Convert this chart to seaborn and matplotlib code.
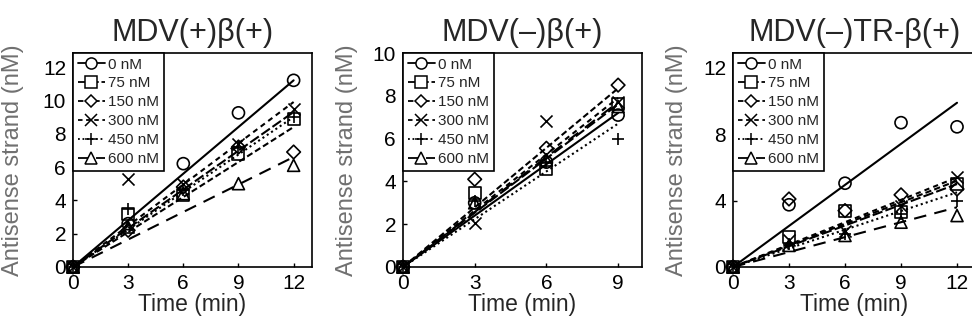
import numpy as np
import pandas as pd
import seaborn as sns
import matplotlib
matplotlib.use("Agg")
import matplotlib.pyplot as plt
from matplotlib.lines import Line2D

sns.set_style("ticks")
plt.rcParams['font.family'] = ['Liberation Sans', 'DejaVu Sans']

conc = ["0 nM", "75 nM", "150 nM", "300 nM", "450 nM", "600 nM"]
markers = ["o", "s", "D", "x", "+", "^"]
styles = ["-", (0, (5, 1.5)), (0, (3, 1.5)), (0, (2.5, 2)), (0, (1, 1.5)), (0, (6, 4))]

titles = ["MDV(+)β(+)", "MDV(–)β(+)", "MDV(–)TR-β(+)"]

# panel 1: MDV(+)beta(+)
t1 = [0, 3, 6, 9, 12]
p1 = {
    "0 nM":   [0, 2.6, 6.2, 9.25, 11.2],
    "75 nM":  [0, 3.2, 4.3, 6.8, 8.9],
    "150 nM": [0, 2.2, 4.8, 7.2, 6.9],
    "300 nM": [0, 5.3, 5.0, 7.4, 9.5],
    "450 nM": [0, 3.5, 4.6, 7.2, 9.0],
    "600 nM": [0, 2.4, 4.4, 5.0, 6.1],
}
fit1 = [11.2, 9.3, 8.4, 9.9, 9.0, 6.6]

# panel 2: MDV(-)beta(+)
t2 = [0, 3, 6, 9]
p2 = {
    "0 nM":   [0, 3.0, 4.9, 7.1],
    "75 nM":  [0, 3.45, 4.6, 7.6],
    "150 nM": [0, 4.1, 5.55, 8.5],
    "300 nM": [0, 2.05, 6.8, 7.7],
    "450 nM": [0, 3.1, 4.9, 6.0],
    "600 nM": [0, 3.0, 5.0, 7.5],
}
fit2 = [7.2, 7.6, 8.35, 7.9, 6.7, 7.7]

# panel 3: MDV(-)TR-beta(+)
t3 = [0, 3, 6, 9, 12]
p3 = {
    "0 nM":   [0, 3.75, 5.05, 8.7, 8.45],
    "75 nM":  [0, 1.8, 3.35, 3.3, 5.0],
    "150 nM": [0, 4.1, 3.4, 4.35, 4.7],
    "300 nM": [0, 1.6, 2.2, 3.7, 5.4],
    "450 nM": [0, 1.4, 2.0, 3.2, 3.95],
    "600 nM": [0, 1.3, 1.9, 2.7, 3.1],
}
fit3 = [9.9, 5.0, 5.2, 5.4, 4.5, 3.6]

panels = [
    (t1, p1, fit1, [0.0751, 0.1835, 0.2459, 0.6544], (0, 13), (0, 12.84), [0, 3, 6, 9, 12], [0, 2, 4, 6, 8, 10, 12], -0.205),
    (t2, p2, fit2, [0.4146, 0.1835, 0.2459, 0.6544], (0, 10), (0, 10), [0, 3, 6, 9], [0, 2, 4, 6, 8, 10], -0.19),
    (t3, p3, fit3, [0.7541, 0.1835, 0.2497, 0.6544], (0, 13), (0, 12.9), [0, 3, 6, 9, 12], [0, 4, 8, 12], -0.185),
]

fig = plt.figure(figsize=(9.72, 3.27), dpi=100)

for (t, pts, fit, pos, xl, yl, xt, yt, ylx), title in zip(panels, titles):
    ax = fig.add_axes(pos)
    for i, c in enumerate(conc):
        line = pd.DataFrame({"x": [0, t[-1]], "y": [0, fit[i]]})
        sns.lineplot(data=line, x="x", y="y", ax=ax, color="black",
                     linewidth=1.5, linestyle=styles[i], legend=False)
        df = pd.DataFrame({"x": t, "y": pts[c]})
        filled = markers[i] in ("x", "+")
        sns.scatterplot(data=df, x="x", y="y", ax=ax, marker=markers[i],
                        s=75 if markers[i] != "D" else 48,
                        facecolor="black" if filled else "none",
                        edgecolor="black", color="black",
                        linewidth=1.2, clip_on=False, zorder=3, legend=False)
    ax.set_xlim(*xl)
    ax.set_ylim(*yl)
    ax.set_xticks(xt)
    ax.set_yticks(yt)
    ax.tick_params(direction="in", length=3, width=1, labelsize=15, colors="black")
    ax.tick_params(axis="x", pad=5)
    ax.tick_params(axis="y", pad=5)
    for sp in ax.spines.values():
        sp.set_linewidth(1.2)
        sp.set_color("black")
    ax.set_xlabel("Time (min)", fontsize=16.5)
    ax.xaxis.set_label_coords(0.5, -0.12)
    ax.set_ylabel("Antisense strand (nM)", fontsize=17, color="#707070")
    ax.yaxis.set_label_coords(ylx, 0.5)
    ax.set_title(title, fontsize=22, pad=9)

    handles = []
    for i, c in enumerate(conc):
        filled = markers[i] in ("x", "+")
        handles.append(Line2D([0], [0], color="black", linestyle=styles[i], linewidth=1.3,
                              marker=markers[i], markersize=8 if markers[i] != "D" else 6,
                              markerfacecolor="black" if filled else "white",
                              markeredgecolor="black", markeredgewidth=1.1))
    leg = ax.legend(handles, conc, loc="upper left", borderaxespad=0, fontsize=11,
                    handlelength=1.8, handletextpad=0.2, labelspacing=0.32,
                    borderpad=0.3, fancybox=False, framealpha=1)
    leg.get_frame().set_edgecolor("black")
    leg.get_frame().set_linewidth(1.2)

fig.savefig("out.png", dpi=100)
